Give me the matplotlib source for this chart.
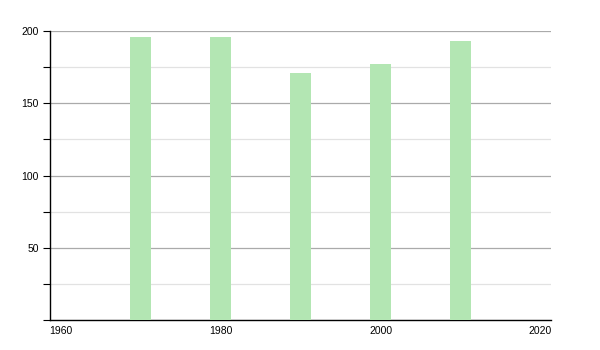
import matplotlib
matplotlib.use("Agg")
import matplotlib.pyplot as plt
from matplotlib.ticker import MultipleLocator

# population by census year
years = [1970, 1980, 1990, 2000, 2010]
values = [196, 196, 171, 177, 193]
xticks = [1960, 1980, 2000, 2020]
yticks = [50, 100, 150, 200]

plt.rcParams['font.family'] = ['Liberation Sans', 'DejaVu Sans']

fig = plt.figure(figsize=(6, 3.5), dpi=100)
ax = fig.add_axes([50 / 600, 1 - 320 / 350, 501 / 600, 289 / 350])

ax.bar(years, values, width=2.6, color='#b3e6b3', zorder=3)

ax.set_xlim(1958.69, 2021.31)
ax.set_ylim(0, 200)
ax.set_xticks(xticks)
ax.set_yticks(yticks)
ax.yaxis.set_minor_locator(MultipleLocator(25))

ax.grid(axis='y', which='major', color='#aaaaaa', linewidth=0.9, zorder=0)
ax.grid(axis='y', which='minor', color='#e2e2e2', linewidth=0.9, zorder=0)

for s in ['top', 'right']:
    ax.spines[s].set_visible(False)
for s in ['left', 'bottom']:
    ax.spines[s].set_color('black')
    ax.spines[s].set_linewidth(1.0)

ax.tick_params(axis='y', which='both', length=5, width=0.8, pad=3, labelsize=7.5)
ax.tick_params(axis='x', length=0, pad=4, labelsize=7.5)

fig.savefig('out.png', dpi=100)
